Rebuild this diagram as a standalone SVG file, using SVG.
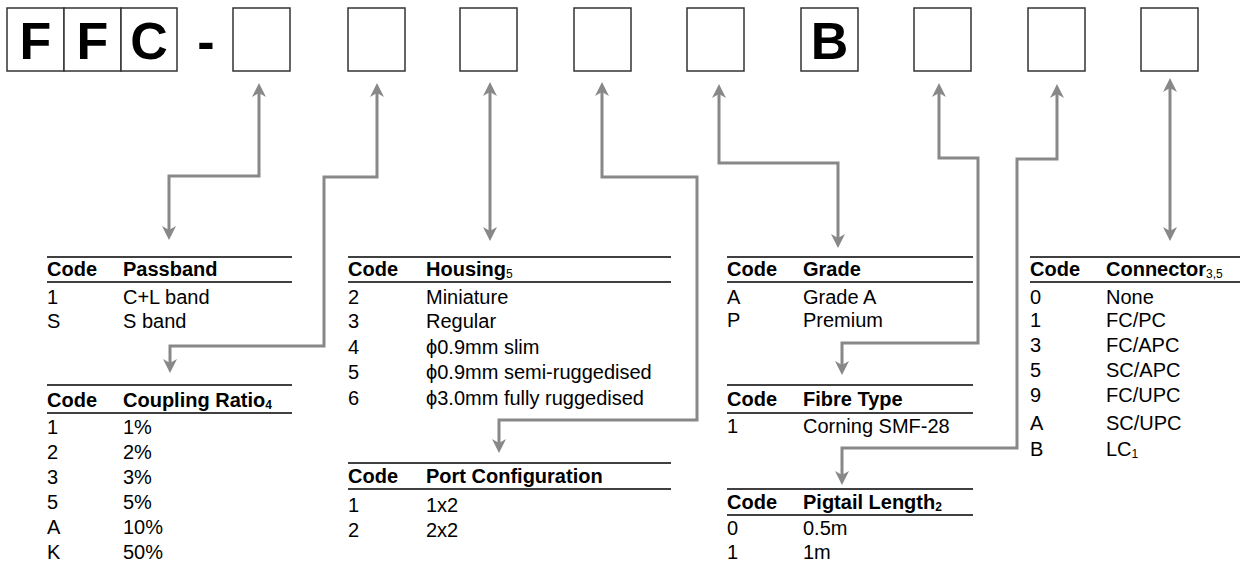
<svg xmlns="http://www.w3.org/2000/svg" width="1241" height="563" viewBox="0 0 1241 563">
<style>
text{font-family:"Liberation Sans",Arial,sans-serif;font-size:20px;fill:#000}
.big{font-size:52px;font-weight:bold;text-anchor:middle}
.h{font-weight:bold}
.sub{font-size:12px}
.box{fill:#fff;stroke:#333;stroke-width:1.5}
.rule{stroke:#000;stroke-width:1.5}
.conn{fill:none;stroke:#888;stroke-width:3}
</style>
<defs>
<marker id="ah" viewBox="0 0 14 14" markerWidth="14" markerHeight="14" refX="6" refY="7" orient="auto-start-reverse" markerUnits="userSpaceOnUse">
<path d="M0,0 L14,7 L0,14 L4,7 z" fill="#888"/>
</marker>
</defs>
<g id="code-boxes">
<g id="box-F1"><rect class="box" x="7" y="8" width="57" height="63"/><text class="big" x="35.5" y="59">F</text></g>
<g id="box-F2"><rect class="box" x="64" y="8" width="57" height="63"/><text class="big" x="92.5" y="59">F</text></g>
<g id="box-C"><rect class="box" x="121" y="8" width="56" height="63"/><text class="big" x="149" y="59">C</text></g>
<g id="dash"><text class="big" x="206" y="59">-</text></g>
<g id="box-passband"><rect class="box" x="233" y="8" width="57" height="63"/></g>
<g id="box-coupling"><rect class="box" x="348" y="8" width="57" height="63"/></g>
<g id="box-housing"><rect class="box" x="460" y="8" width="57" height="63"/></g>
<g id="box-port"><rect class="box" x="574" y="8" width="57" height="63"/></g>
<g id="box-grade"><rect class="box" x="687" y="8" width="57" height="63"/></g>
<g id="box-B"><rect class="box" x="801" y="8" width="57" height="63"/><text class="big" x="829.5" y="59">B</text></g>
<g id="box-fibre"><rect class="box" x="914" y="8" width="57" height="63"/></g>
<g id="box-pigtail"><rect class="box" x="1028" y="8" width="57" height="63"/></g>
<g id="box-connector"><rect class="box" x="1141" y="8" width="57" height="63"/></g>
</g>
<g id="connectors" class="conn" marker-start="url(#ah)" marker-end="url(#ah)">
<path d="M259,91 V176 H169 V232"/>
<path d="M377,91 V177 H324 V346 H170 V365"/>
<path d="M490,90 V233"/>
<path d="M602,90 V177 H697 V420 H499 V445"/>
<path d="M719,92 V163 H838 V240"/>
<path d="M939,91 V158 H978 V343 H842 V367"/>
<path d="M1057,92 V159 H1017 V448 H842 V477"/>
<path d="M1170,86 V233"/>
</g>
<g id="table-passband">
<line class="rule" x1="47" y1="257" x2="292" y2="257"/>
<line class="rule" x1="47" y1="282" x2="292" y2="282"/>
<text class="h" x="47" y="276">Code</text><text class="h" x="123" y="276">Passband</text>
<text x="47" y="304">1</text><text x="123" y="304">C+L band</text>
<text x="47" y="328">S</text><text x="123" y="328">S band</text>
</g>
<g id="table-coupling">
<line class="rule" x1="47" y1="385" x2="292" y2="385"/>
<line class="rule" x1="47" y1="413" x2="292" y2="413"/>
<text class="h" x="47" y="407">Code</text><text class="h" x="123" y="407">Coupling Ratio<tspan class="sub" dy="2">4</tspan></text>
<text x="47" y="434">1</text><text x="123" y="434">1%</text>
<text x="47" y="459">2</text><text x="123" y="459">2%</text>
<text x="47" y="484">3</text><text x="123" y="484">3%</text>
<text x="47" y="509">5</text><text x="123" y="509">5%</text>
<text x="47" y="534">A</text><text x="123" y="534">10%</text>
<text x="47" y="559">K</text><text x="123" y="559">50%</text>
</g>
<g id="table-housing">
<line class="rule" x1="348" y1="257" x2="671" y2="257"/>
<line class="rule" x1="348" y1="282" x2="671" y2="282"/>
<text class="h" x="348" y="276">Code</text><text class="h" x="426" y="276">Housing<tspan class="sub" font-weight="normal" dy="2">5</tspan></text>
<text x="348" y="304">2</text><text x="426" y="304">Miniature</text>
<text x="348" y="328">3</text><text x="426" y="328">Regular</text>
<text x="348" y="354">4</text><text x="426" y="354">ϕ0.9mm slim</text>
<text x="348" y="379">5</text><text x="426" y="379">ϕ0.9mm semi-ruggedised</text>
<text x="348" y="405">6</text><text x="426" y="405">ϕ3.0mm fully ruggedised</text>
</g>
<g id="table-port">
<line class="rule" x1="348" y1="463" x2="671" y2="463"/>
<line class="rule" x1="348" y1="489" x2="671" y2="489"/>
<text class="h" x="348" y="483">Code</text><text class="h" x="426" y="483">Port Configuration</text>
<text x="348" y="512">1</text><text x="426" y="512">1x2</text>
<text x="348" y="537">2</text><text x="426" y="537">2x2</text>
</g>
<g id="table-grade">
<line class="rule" x1="727" y1="257" x2="973" y2="257"/>
<line class="rule" x1="727" y1="282" x2="973" y2="282"/>
<text class="h" x="727" y="276">Code</text><text class="h" x="803" y="276">Grade</text>
<text x="727" y="304">A</text><text x="803" y="304">Grade A</text>
<text x="727" y="327">P</text><text x="803" y="327">Premium</text>
</g>
<g id="table-fibre">
<line class="rule" x1="727" y1="385" x2="973" y2="385"/>
<line class="rule" x1="727" y1="413" x2="973" y2="413"/>
<text class="h" x="727" y="406">Code</text><text class="h" x="803" y="406">Fibre Type</text>
<text x="727" y="433">1</text><text x="803" y="433">Corning SMF-28</text>
</g>
<g id="table-pigtail">
<line class="rule" x1="727" y1="489" x2="973" y2="489"/>
<line class="rule" x1="727" y1="515" x2="973" y2="515"/>
<text class="h" x="727" y="509">Code</text><text class="h" x="803" y="509">Pigtail Length<tspan class="sub" dy="2">2</tspan></text>
<text x="727" y="535">0</text><text x="803" y="535">0.5m</text>
<text x="727" y="559">1</text><text x="803" y="559">1m</text>
</g>
<g id="table-connector">
<line class="rule" x1="1030" y1="257" x2="1240" y2="257"/>
<line class="rule" x1="1030" y1="282" x2="1240" y2="282"/>
<text class="h" x="1030" y="276">Code</text><text class="h" x="1106" y="276">Connector<tspan class="sub" font-weight="normal" dy="2">3,5</tspan></text>
<text x="1030" y="304">0</text><text x="1106" y="304">None</text>
<text x="1030" y="327">1</text><text x="1106" y="327">FC/PC</text>
<text x="1030" y="352">3</text><text x="1106" y="352">FC/APC</text>
<text x="1030" y="377">5</text><text x="1106" y="377">SC/APC</text>
<text x="1030" y="402">9</text><text x="1106" y="402">FC/UPC</text>
<text x="1030" y="430">A</text><text x="1106" y="430">SC/UPC</text>
<text x="1030" y="456">B</text><text x="1106" y="456">LC<tspan class="sub" dy="2">1</tspan></text>
</g>
</svg>
